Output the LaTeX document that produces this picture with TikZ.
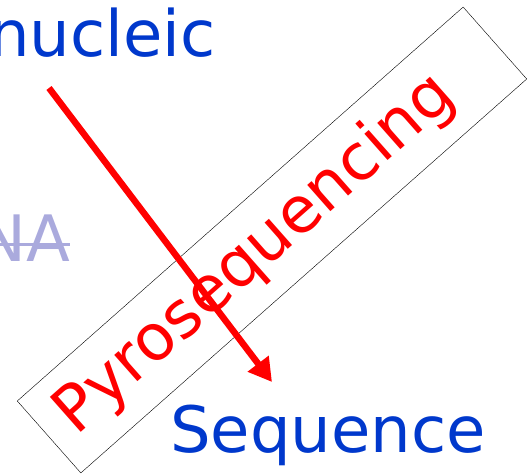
\documentclass[tikz,border=0pt]{standalone}
\usepackage{fontspec}
\setmainfont{DejaVu Sans}
\usetikzlibrary{arrows.meta}
\usetikzlibrary{shapes}

\definecolor{termblue}{RGB}{0,56,204}
\definecolor{oldterm}{RGB}{170,170,221}

\begin{document}
\begin{tikzpicture}[x = 1pt, y = 1pt, font=\fontsize{64}{72}\selectfont]
	\tikzstyle{termStyle} = [inner sep = 0pt, text = termblue]
	\tikzstyle{oldStyle} = [inner sep = 0pt, text = oldterm]
	\tikzstyle{methodStyle} = [shape = rectangle, draw, thin, text = red, rotate = 41.46, minimum width = 595pt, minimum height = 96pt, inner sep = 0pt]
	\tikzstyle{stepArrow} = [draw = red, line width = 6.5pt, -{Triangle[length = 23pt, width = 25pt]}]
	\useasboundingbox (0, 0) rectangle (527, 474);
	\clip (0, 0) rectangle (527, 474);
	\node[methodStyle] (pyro) at (272, 234) {Pyrosequencing\hspace*{44pt}};
	\node[termStyle, anchor = base east] (nucleic) at (216, 417) {nucleic};
	\node[oldStyle, anchor = base east] (na) at (70, 212) {NA};
	\node[termStyle, anchor = base west] (seq) at (170, 22) {Sequence};
	\draw[oldterm, line width = 3pt] ([yshift = 17pt]na.base west) -- ([yshift = 17pt]na.base east);
	\coordinate (from) at (49, 386);
	\coordinate (to) at (272, 92);
	\draw[stepArrow] (from) -- (to);
\end{tikzpicture}
\end{document}
